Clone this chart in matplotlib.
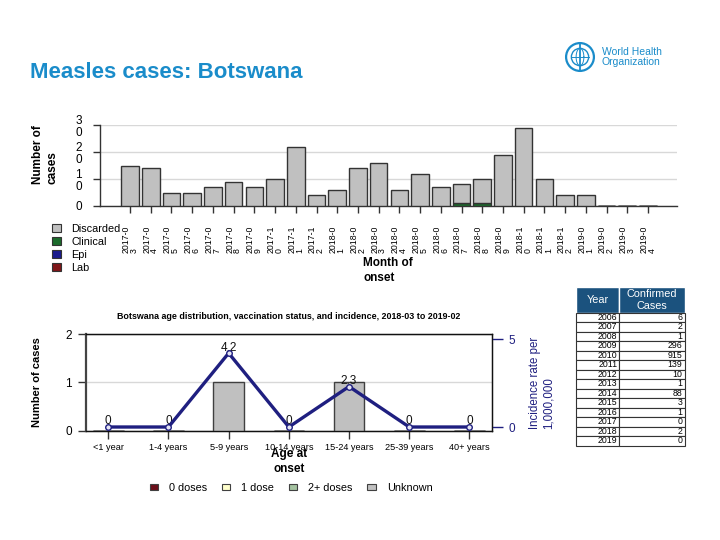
import matplotlib
matplotlib.use('Agg')
import matplotlib.pyplot as plt
from matplotlib.patches import Patch, Circle
import numpy as np

plt.rcParams['font.family'] = ['Liberation Sans', 'DejaVu Sans']

# ---------------- data ----------------
months = ['2017-03', '2017-04', '2017-05', '2017-06', '2017-07', '2017-08', '2017-09',
          '2017-10', '2017-11', '2017-12', '2018-01', '2018-02', '2018-03', '2018-04',
          '2018-05', '2018-06', '2018-07', '2018-08', '2018-09', '2018-10', '2018-11',
          '2018-12', '2019-01', '2019-02', '2019-03', '2019-04']
discarded = [15, 14, 5, 5, 7, 9, 7, 10, 22, 4, 6, 14, 16, 6, 12, 7, 7, 9, 19, 29, 10, 4, 4, 0, 0, 0]
clinical = [0, 0, 0, 0, 0, 0, 0, 0, 0, 0, 0, 0, 0, 0, 0, 0, 1, 1, 0, 0, 0, 0, 0, 0, 0, 0]
epi = [0] * 26
lab = [0] * 26
top_yticks = [0, 10, 20, 30]
top_yticklabels = ['0', '1\n0', '2\n0', '3\n0']

age_groups = ['<1 year', '1-4 years', '5-9 years', '10-14 years', '15-24 years',
              '25-39 years', '40+ years']
dose0 = [0, 0, 0, 0, 0, 0, 0]
dose1 = [0, 0, 0, 0, 0, 0, 0]
dose2 = [0, 0, 0, 0, 0, 0, 0]
unknown = [0, 0, 1, 0, 1, 0, 0]
incidence = [0, 0, 4.2, 0, 2.3, 0, 0]

table_years = ['2006', '2007', '2008', '2009', '2010', '2011', '2012', '2013', '2014',
               '2015', '2016', '2017', '2018', '2019']
table_cases = [6, 2, 1, 296, 915, 139, 10, 1, 88, 3, 1, 0, 2, 0]

# ---------------- colours ----------------
C_DISC = '#c0c0c0'
C_CLIN = '#1b6b2b'
C_EPI = '#1a1a8c'
C_LAB = '#7f1619'
C_EDGE = '#333333'
C_NAVY = '#1f1f80'
C_TITLE = '#1a8cca'

W, H = 720, 540
fig = plt.figure(figsize=(7.2, 5.4), dpi=100)


def rect(l, t, r, b):
    return [l / W, 1 - b / H, (r - l) / W, (b - t) / H]


# ---------------- title & logo ----------------
fig.text(30 / W, 1 - 73 / H, 'Measles cases: Botswana', color=C_TITLE, fontsize=16,
         fontweight='bold', ha='left', va='center')

lax = fig.add_axes(rect(562, 41, 598, 73))
lax.set_xlim(-1.15, 1.15)
lax.set_ylim(-1.15, 1.15)
lax.set_aspect('equal')
lax.axis('off')
lax.add_patch(Circle((0, 0), 1.0, fill=False, ec=C_TITLE, lw=1.6))
lax.add_patch(Circle((0, 0), 0.62, fill=False, ec=C_TITLE, lw=1.0))
th = np.linspace(0, 2 * np.pi, 60)
lax.plot(0.62 * np.cos(th) * 0.45, 0.62 * np.sin(th), color=C_TITLE, lw=0.7)
lax.plot([-0.62, 0.62], [0, 0], color=C_TITLE, lw=0.7)
lax.plot([0, 0], [-0.95, 0.95], color=C_TITLE, lw=1.3)
fig.text(602 / W, 1 - 57 / H, 'World Health\nOrganization', color=C_TITLE, fontsize=7.5,
         ha='left', va='center', linespacing=1.1)

# ---------------- top chart ----------------
ax1 = fig.add_axes(rect(100, 125.3, 677, 206))
x = np.arange(len(months))
bw = 0.85
b0 = np.zeros(len(months))
for vals, col in [(lab, C_LAB), (epi, C_EPI), (clinical, C_CLIN), (discarded, C_DISC)]:
    ax1.bar(x, vals, bw, bottom=b0, color=col, edgecolor=C_EDGE, linewidth=1.0, zorder=3)
    b0 = b0 + np.array(vals)
ax1.set_xlim(-1.45, 26.4)
ax1.set_ylim(0, 30)
ax1.set_yticks(top_yticks)
ax1.set_yticklabels(top_yticklabels, fontsize=8.5, linespacing=1.05)
ax1.set_xticks(x)
ax1.set_xticklabels([m[:6] + '\n' + m[6:] for m in months], rotation=90, fontsize=6.3,
                    linespacing=0.85, ha='center', va='top', multialignment='left')
ax1.tick_params(axis='x', length=5, width=1, color='#333333', pad=9)
ax1.tick_params(axis='y', length=5, width=1, color='#333333', pad=8)
for s in ['top', 'right']:
    ax1.spines[s].set_visible(False)
for s in ['left', 'bottom']:
    ax1.spines[s].set_color('#333333')
    ax1.spines[s].set_linewidth(1.0)
ax1.yaxis.grid(True, color='#d8d8d8', linewidth=1.0, zorder=0)
ax1.set_axisbelow(True)
fig.text(45 / W, 1 - 155 / H, 'Number of\ncases', rotation=90, fontsize=8.5,
         fontweight='bold', ha='center', va='center', multialignment='left',
         linespacing=1.3)
fig.text(388 / W, 1 - 257 / H, 'Month of\nonset', fontsize=8.5, fontweight='bold',
         ha='center', va='top', multialignment='left', linespacing=1.35)

top_handles = [Patch(facecolor=c, edgecolor=C_EDGE, linewidth=0.8)
               for c in [C_DISC, C_CLIN, C_EPI, C_LAB]]
fig.legend(top_handles, ['Discarded', 'Clinical', 'Epi', 'Lab'],
           loc='upper left', bbox_to_anchor=(52 / W, 1 - 224 / H), frameon=False,
           fontsize=7.8, handlelength=0.8, handleheight=0.8, handletextpad=1.0,
           labelspacing=0.28, borderaxespad=0, borderpad=0)

# ---------------- bottom chart ----------------
ax2 = fig.add_axes(rect(85.7, 334.3, 492, 430.7))
xa = np.arange(len(age_groups))
bw2 = 0.51
b0 = np.zeros(len(age_groups))
for vals, col in [(dose0, '#6b0f1a'), (dose1, '#ffffcc'), (dose2, '#a4c2a0'), (unknown, C_DISC)]:
    ax2.bar(xa, vals, bw2, bottom=b0, color=col, edgecolor='#404040', linewidth=1.0, zorder=3)
    b0 = b0 + np.array(vals)
ax2.set_xlim(-0.375, 6.375)
ax2.set_ylim(0, 2)
ax2.set_yticks([0, 1, 2])
ax2.set_yticklabels(['0', '1', '2'], fontsize=8.5)
ax2.set_xticks(xa)
ax2.set_xticklabels(age_groups, fontsize=6.6)
ax2.tick_params(axis='x', length=6, width=1, color='#333333', pad=3)
ax2.tick_params(axis='y', length=6, width=1, color='#333333', pad=4)
ax2.yaxis.grid(True, color='#d8d8d8', linewidth=1.0, zorder=0)
ax2.set_axisbelow(True)
for s in ['top', 'right', 'bottom']:
    ax2.spines[s].set_color('#111111')
    ax2.spines[s].set_linewidth(1.0)
ax2.spines['left'].set_color('#444444')
ax2.spines['left'].set_linewidth(1.6)
ax2.set_title('Botswana age distribution, vaccination status, and incidence, 2018-03 to 2019-02',
              fontsize=6.4, fontweight='bold', pad=11)
fig.text(37 / W, 1 - 382.5 / H, 'Number of cases', rotation=90, fontsize=8,
         fontweight='bold', ha='center', va='center')
fig.text(288.8 / W, 1 - 448 / H, 'Age at\nonset', fontsize=8.5, fontweight='bold',
         ha='center', va='top', linespacing=1.3, zorder=5)

ax3 = ax2.twinx()
ax3.set_ylim(-0.21, 5.27)
ax3.plot(xa, incidence, color=C_NAVY, linewidth=2.4, marker='o', markersize=4,
         markerfacecolor='#e6e6f5', markeredgecolor=C_NAVY, markeredgewidth=1.0, zorder=4)
for xi, v in zip(xa, incidence):
    lbl = '0' if v == 0 else f'{v:.1f}'
    ax3.annotate(lbl, (xi, v), xytext=(0, 4), textcoords='offset points',
                 ha='center', va='center', fontsize=8.5, color='#111111')
ax3.set_yticks([0, 5])
ax3.set_yticklabels(['0', '5'], fontsize=8.5, color=C_NAVY)
ax3.tick_params(axis='y', length=8, width=1, color=C_NAVY, pad=4)
for s in ['top', 'right', 'bottom']:
    ax3.spines[s].set_color('#111111')
ax3.spines['left'].set_visible(False)
fig.text(542 / W, 1 - 382.5 / H, 'Incidence rate per\n1,000,000', rotation=90, fontsize=8.3,
         color=C_NAVY, ha='center', va='center', multialignment='left', linespacing=1.2)

bot_handles = [Patch(facecolor=c, edgecolor='#404040', linewidth=0.8)
               for c in ['#6b0f1a', '#ffffcc', '#a4c2a0', C_DISC]]
fig.legend(bot_handles, ['0 doses', '1 dose', '2+ doses', 'Unknown'], ncol=4,
           loc='center', bbox_to_anchor=(291 / W, 1 - 488 / H), frameon=False,
           fontsize=7.8, handlelength=0.8, handleheight=0.55, handletextpad=1.0,
           columnspacing=1.35, borderaxespad=0, borderpad=0)

# ---------------- table ----------------
tax = fig.add_axes(rect(576, 287, 685, 445.7))
tax.axis('off')
cell_text = [[y, str(c)] for y, c in zip(table_years, table_cases)]
tbl = tax.table(cellText=cell_text, colLabels=['Year', 'Confirmed\nCases'],
                cellLoc='right', colLoc='center', bbox=[0, 0, 1, 1],
                colWidths=[43.3, 65.7])
tbl.auto_set_font_size(False)
tbl.set_fontsize(6.3)
hh = 25.6
rh = 9.53
for (r, c), cell in tbl.get_celld().items():
    if r == 0:
        cell.set_height(hh)
        cell.set_facecolor('#1b527e')
        cell.set_edgecolor('white')
        cell.set_linewidth(1.0)
        cell.get_text().set_color('white')
        cell.get_text().set_fontsize(7.8)
    else:
        cell.set_height(rh)
        cell.set_facecolor('white')
        cell.set_edgecolor('#333333')
        cell.set_linewidth(0.8)
        cell.PAD = 0.04

fig.savefig('out.png', dpi=100)
